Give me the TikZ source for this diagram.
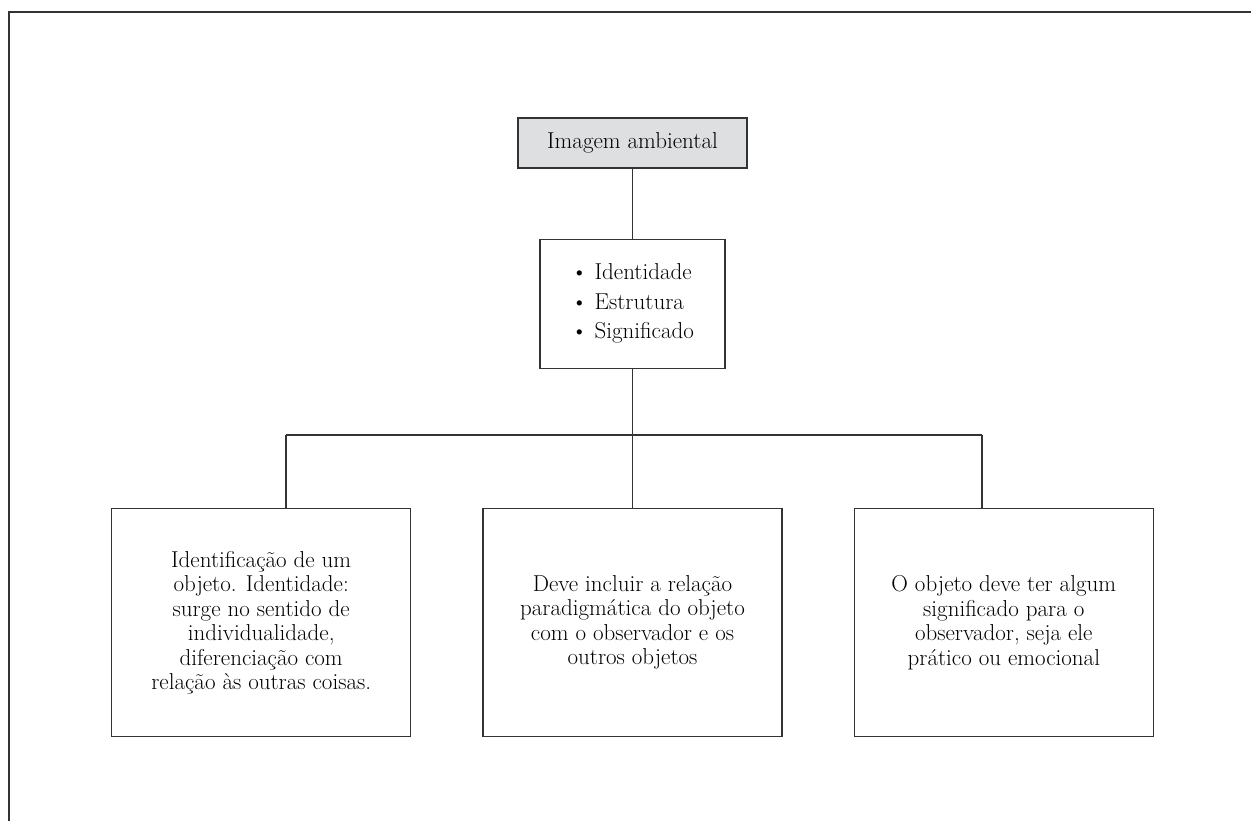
\documentclass[tikz,border=0pt]{standalone}
\usepackage{fontspec}
\usepackage{tikz}
\usetikzlibrary{positioning}

\definecolor{boxgray}{HTML}{DEDFE0}
\definecolor{linegray}{HTML}{333333}

\tikzset{
	card/.style={draw=linegray, line width=1.3pt, align=center, inner sep=4pt,
		font=\fontsize{23}{24.5}\selectfont},
	topcard/.style={card, fill=boxgray, minimum width=229pt, minimum height=50pt},
	listcard/.style={card, align=left, minimum width=185pt, minimum height=129pt,
		font=\fontsize{23}{29.5}\selectfont},
	leafcard/.style={card, minimum width=299pt, minimum height=228pt},
	link/.style={draw=linegray, line width=1.3pt}
}

\begin{document}
\begin{tikzpicture}
	\useasboundingbox (0pt,0pt) rectangle (1251pt,821pt);
	\draw[link] (1251pt,809pt) -- (9pt,809pt) -- (9pt,0pt);

	\node[topcard] (imagem) at (632.5pt,678pt) {Imagem ambiental};
	\node[listcard, below=70pt of imagem] (aspectos) {\textbullet\ Identidade\\ \textbullet\ Estrutura\\ \textbullet\ Significado};
	\node[leafcard, below=139pt of aspectos] (estrutura) {Deve incluir a relação\\ paradigmática do objeto\\ com o observador e os\\ outros objetos};
	\node[leafcard, left=71pt of estrutura] (identidade) {Identificação de um\\ objeto. Identidade:\\ surge no sentido de\\ individualidade,\\ diferenciação com\\ relação às outras coisas.};
	\node[leafcard, right=71pt of estrutura] (significado) {O objeto deve ter algum\\ significado para o\\ observador, seja ele\\ prático ou emocional};

	\coordinate (barL) at (286pt,386pt);
	\coordinate (barR) at (982pt,386pt);

	\path[link] (imagem) -- (aspectos);
	\path[link] (aspectos) -- (estrutura);
	\path[link] (barL) -- (barR);
	\path[link] (barL) -- (identidade.north -| barL);
	\path[link] (barR) -- (significado.north -| barR);
\end{tikzpicture}
\end{document}
